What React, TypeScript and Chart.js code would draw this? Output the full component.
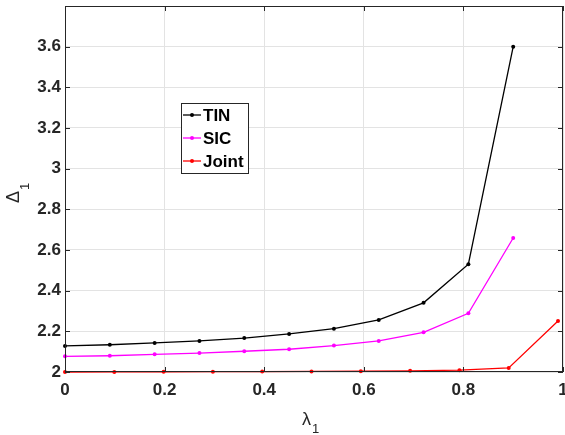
import React, { useEffect, useRef } from 'react';
import { Chart, registerables } from 'chart.js';
Chart.register(...registerables);

const tinX = [0, 0.09, 0.18, 0.27, 0.36, 0.45, 0.54, 0.63, 0.72, 0.81, 0.9];
const tinY = [2.128, 2.134, 2.143, 2.153, 2.167, 2.187, 2.213, 2.256, 2.34, 2.53, 3.6];
const sicX = [0, 0.09, 0.18, 0.27, 0.36, 0.45, 0.54, 0.63, 0.72, 0.81, 0.9];
const sicY = [2.077, 2.08, 2.087, 2.093, 2.102, 2.112, 2.13, 2.153, 2.195, 2.289, 2.659];
const jointX = [0, 0.099, 0.198, 0.297, 0.396, 0.495, 0.594, 0.693, 0.792, 0.891, 0.99];
const jointY = [2.0, 2.0005, 2.001, 2.0015, 2.002, 2.003, 2.004, 2.006, 2.009, 2.02, 2.251];
const seriesNames = ['TIN', 'SIC', 'Joint'];
const seriesColors = ['#000000', '#ff00ff', '#ff0000'];
const xTicks = [0, 0.2, 0.4, 0.6, 0.8, 1];
const yTicks = [2, 2.2, 2.4, 2.6, 2.8, 3, 3.2, 3.4, 3.6];
const xLabel = 'λ';
const yLabel = 'Δ';

const FONT = "'Liberation Sans', Arial, sans-serif";
const AXIS = '#262626';

const fmt = (v: number) => String(Number(v.toFixed(2)));

export default function App() {
  const ref = useRef<HTMLCanvasElement>(null);
  useEffect(() => {
    const mk = (xs: number[], ys: number[]) => xs.map((x, i) => ({ x, y: ys[i] }));
    const datas = [mk(tinX, tinY), mk(sicX, sicY), mk(jointX, jointY)];
    const deco = {
      id: 'deco',
      afterDraw(chart: any) {
        const { ctx, chartArea: a, scales } = chart;
        const xs = scales.x, ys = scales.y;
        ctx.save();
        ctx.strokeStyle = AXIS;
        ctx.lineWidth = 1;
        ctx.beginPath();
        const tl = 5;
        xTicks.forEach((t) => {
          const px = Math.round(xs.getPixelForValue(t)) + 0.5;
          ctx.moveTo(px, a.bottom); ctx.lineTo(px, a.bottom - tl);
          ctx.moveTo(px, a.top); ctx.lineTo(px, a.top + tl);
        });
        yTicks.forEach((t) => {
          const py = Math.round(ys.getPixelForValue(t)) + 0.5;
          ctx.moveTo(a.left, py); ctx.lineTo(a.left + tl, py);
          ctx.moveTo(a.right, py); ctx.lineTo(a.right - tl, py);
        });
        ctx.stroke();
        ctx.strokeRect(Math.round(a.left) + 0.5, Math.round(a.top) + 0.5, Math.round(a.right - a.left) - 1, Math.round(a.bottom - a.top) - 1);

        // axis titles
        ctx.fillStyle = AXIS;
        ctx.textAlign = 'left';
        ctx.textBaseline = 'alphabetic';
        ctx.font = `18px ${FONT}`;
        const lw = ctx.measureText(xLabel).width;
        const cx = (a.left + a.right) / 2;
        ctx.fillText(xLabel, cx - 12, 425);
        ctx.font = `13px ${FONT}`;
        ctx.fillText('1', cx - 12 + lw + 1, 433);

        ctx.save();
        ctx.translate(19, 203);
        ctx.rotate(-Math.PI / 2);
        ctx.font = `18px ${FONT}`;
        const dw = ctx.measureText(yLabel).width;
        ctx.fillText(yLabel, 0, 0);
        ctx.font = `13px ${FONT}`;
        ctx.fillText('1', dw + 1, 10);
        ctx.restore();

        // legend
        const bx = 181, by = 103, bw = 67, bh = 70;
        ctx.fillStyle = '#ffffff';
        ctx.fillRect(bx, by, bw, bh);
        ctx.strokeStyle = AXIS;
        ctx.lineWidth = 1;
        ctx.strokeRect(bx + 0.5, by + 0.5, bw, bh);
        const rows = [115, 138, 161];
        seriesNames.forEach((n, i) => {
          const y = rows[i];
          ctx.strokeStyle = seriesColors[i];
          ctx.lineWidth = 1.3;
          ctx.beginPath();
          ctx.moveTo(183, y); ctx.lineTo(201, y);
          ctx.stroke();
          ctx.fillStyle = seriesColors[i];
          ctx.beginPath();
          ctx.arc(192, y, 2, 0, Math.PI * 2);
          ctx.fill();
          ctx.fillStyle = '#000000';
          ctx.font = `bold 17px ${FONT}`;
          ctx.textBaseline = 'middle';
          ctx.fillText(n, 203, y + 1);
        });
        ctx.restore();
      },
    };
    const chart = new Chart(ref.current!, {
      type: 'line',
      data: {
        datasets: datas.map((d, i) => ({
          label: seriesNames[i],
          data: d,
          borderColor: seriesColors[i],
          backgroundColor: seriesColors[i],
          borderWidth: 1.3,
          pointRadius: 2,
          pointHoverRadius: 2,
          pointBorderWidth: 0,
          tension: 0,
          clip: 6,
        })),
      },
      options: {
        animation: false,
        responsive: false,
        events: [],
        layout: { padding: { left: 0, top: 6, right: 1, bottom: 0 } },
        plugins: { legend: { display: false }, tooltip: { enabled: false } },
        scales: {
          x: {
            type: 'linear',
            min: 0,
            max: 1,
            afterBuildTicks: (s: any) => { s.ticks = xTicks.map((v) => ({ value: v })); },
            afterFit: (s: any) => { s.height = 63; s.paddingLeft = 0; s.paddingRight = 0; },
            grid: { color: '#e3e3e3', drawTicks: false },
            border: { display: false },
            ticks: {
              padding: 8,
              maxRotation: 0,
              color: AXIS,
              font: { family: FONT, size: 17, weight: 'bold' },
              callback: (v: any) => fmt(Number(v)),
            },
          },
          y: {
            type: 'linear',
            min: 2,
            max: 3.8,
            afterBuildTicks: (s: any) => { s.ticks = yTicks.map((v) => ({ value: v })); },
            afterFit: (s: any) => { s.width = 65; s.paddingTop = 0; s.paddingBottom = 0; },
            grid: { color: '#e3e3e3', drawTicks: false },
            border: { display: false },
            ticks: {
              padding: 4,
              color: AXIS,
              font: { family: FONT, size: 17, weight: 'bold' },
              callback: (v: any) => fmt(Number(v)),
            },
          },
        },
      },
      plugins: [deco],
    } as any);
    return () => chart.destroy();
  }, []);
  return (
    <div style={{ position: 'fixed', left: 0, top: 0, width: 565, height: 435, background: '#fff' }}>
      <canvas ref={ref} width={565} height={435} style={{ width: 565, height: 435, display: 'block' }} />
    </div>
  );
}
